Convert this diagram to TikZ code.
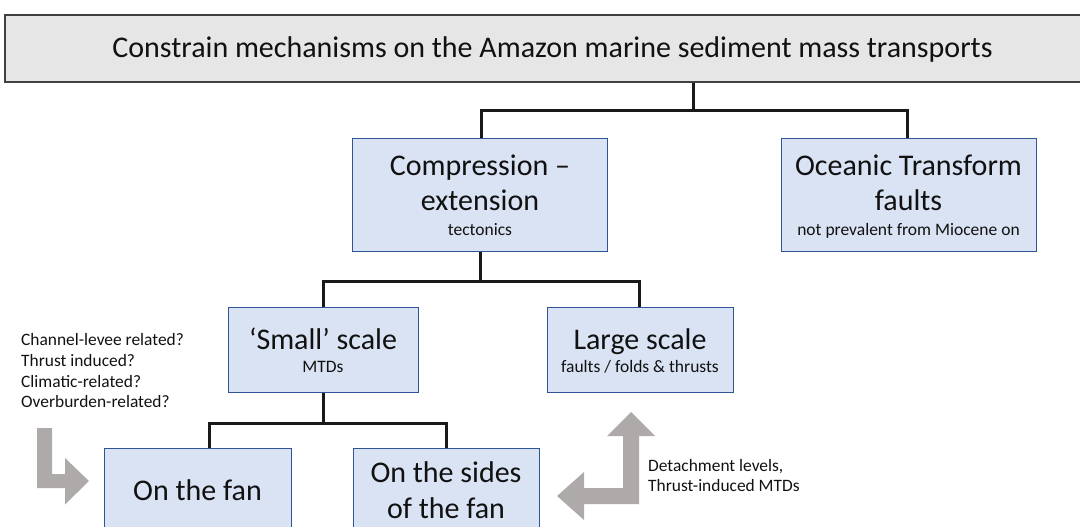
\documentclass[tikz,border=0pt]{standalone}
\usepackage{fontspec}
\setmainfont{Carlito}
\definecolor{boxfill}{HTML}{DAE3F3}
\definecolor{boxline}{HTML}{2F5597}
\definecolor{titlefill}{HTML}{E7E6E6}
\definecolor{titleline}{HTML}{404040}
\definecolor{arrowgray}{HTML}{AEAAAA}
\definecolor{txt}{HTML}{111111}
\tikzset{
  bluebox/.style={draw=boxline, fill=boxfill, line width=1.4pt, rectangle, inner sep=0pt, anchor=north west},
  titlebox/.style={draw=titleline, fill=titlefill, line width=1.5pt, rectangle, inner sep=0pt},
  conn/.style={draw=black!90, line width=3pt},
  bigtxt/.style={anchor=base, inner sep=0pt, text=txt, font=\fontsize{30}{34}\selectfont},
  subtxt/.style={anchor=base, inner sep=0pt, text=txt, font=\fontsize{17.5}{20}\selectfont},
  sidetxt/.style={anchor=base west, inner sep=0pt, text=txt, font=\fontsize{17.4}{20}\selectfont},
  grayarrow/.style={fill=arrowgray, draw=none}
}
\begin{document}
\begin{tikzpicture}[x=1pt, y=-1pt]
\useasboundingbox (0,0) rectangle (1080,527);
% title
\node[titlebox, minimum width=1095pt, minimum height=67pt] (title) at (552.5,48.5) {};
\node[bigtxt] (titletxt) at (552.5,57.5) {Constrain mechanisms on the Amazon marine sediment mass transports};
% boxes
\node[bluebox, minimum width=255pt, minimum height=113pt] (cmp) at (352,138) {};
\node[bluebox, minimum width=255pt, minimum height=113pt] (ocean) at (781,138) {};
\node[bluebox, minimum width=190pt, minimum height=85pt] (small) at (228,307) {};
\node[bluebox, minimum width=186pt, minimum height=85pt] (large) at (547,307) {};
\node[bluebox, minimum width=187pt, minimum height=100pt] (fan) at (104,448) {};
\node[bluebox, minimum width=186pt, minimum height=100pt] (sides) at (353,448) {};
% box texts
\node[bigtxt] (cmp1) at (480,175) {Compression --};
\node[bigtxt] (cmp2) at (480,210.5) {extension};
\node[subtxt] (cmp3) at (480,235) {tectonics};
\node[bigtxt] (oc1) at (908.5,175.5) {Oceanic Transform};
\node[bigtxt] (oc2) at (908.5,210.5) {faults};
\node[subtxt] (oc3) at (908.5,235) {not prevalent from Miocene on};
\node[bigtxt] (sm1) at (323,349) {‘Small’ scale};
\node[subtxt] (sm2) at (323,372.5) {MTDs};
\node[bigtxt] (lg1) at (640,349) {Large scale};
\node[subtxt] (lg2) at (640,372.5) {faults / folds \& thrusts};
\node[bigtxt] (fan1) at (197.5,500.5) {On the fan};
\node[bigtxt] (sd1) at (446,482.5) {On the sides};
\node[bigtxt] (sd2) at (446,518) {of the fan};
% connectors
\draw[conn] ([xshift=140.5pt]title.south) -- ++(0,28) coordinate (j1);
\draw[conn] ([xshift=1pt]cmp.north) |- (j1) -| ([xshift=-1.5pt]ocean.north);
\draw[conn] (cmp.south) -- ++(0,29) coordinate (j2);
\draw[conn] (small.north) |- (j2) -| ([xshift=-1pt]large.north);
\draw[conn] (small.south) -- ++(0,30) coordinate (j3);
\draw[conn] ([xshift=11.5pt]fan.north) |- (j3) -| (sides.north);
% side texts
\node[sidetxt] (q1) at (21,345.5) {Channel-levee related?};
\node[sidetxt] (q2) at (21,366.3) {Thrust induced?};
\node[sidetxt] (q3) at (21,387) {Climatic-related?};
\node[sidetxt] (q4) at (21,407.8) {Overburden-related?};
\node[sidetxt] (d1) at (648,471.5) {Detachment levels,};
\node[sidetxt] (d2) at (648,491.7) {Thrust-induced MTDs};
% gray arrows
\fill[grayarrow] (37,428) -- (52,428) -- (52,474) -- (65,474) -- (65,458) -- (89,481)
  -- (65,504.5) -- (65,488) -- (37,488) -- cycle;
\fill[grayarrow] (631,412) -- (655,436) -- (639,436) -- (639,504) -- (584,504) -- (584,520)
  -- (557,496) -- (584,472) -- (584,488) -- (623,488) -- (623,436) -- (607,436) -- cycle;
\end{tikzpicture}
\end{document}
